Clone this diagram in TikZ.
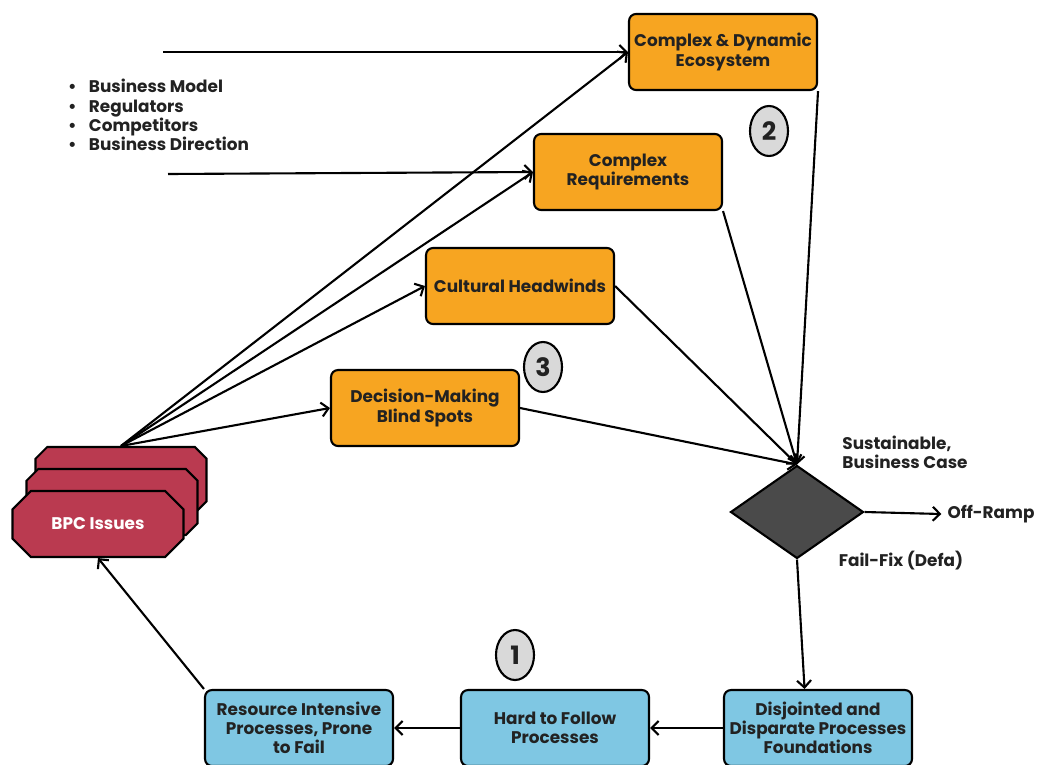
\documentclass[tikz,border=0pt]{standalone}
\usepackage{fontspec}
\setmainfont{Poppins}
\usepackage{xcolor}
\usetikzlibrary{arrows.meta,positioning,calc,shapes.geometric,shapes.misc}

\definecolor{issueorange}{HTML}{F7A521}
\definecolor{procblue}{HTML}{7FC7E3}
\definecolor{bpcred}{HTML}{BA3A50}
\definecolor{gatedark}{HTML}{4A4A4A}
\definecolor{numgray}{HTML}{D9D9D9}
\definecolor{inkblack}{HTML}{222222}

\begin{document}
\begin{tikzpicture}[
    x=0.02cm, y=-0.02cm, >={Straight Barb[length=4pt,width=8pt]},
    every node/.style={font=\bfseries\fontsize{9.6}{10.9}\selectfont, text=inkblack},
    issue/.style={draw, line width=1.2pt, rounded corners=4pt, fill=issueorange, align=center, inner sep=1pt, minimum width=3.76cm, minimum height=1.52cm},
    proc/.style={issue, fill=procblue},
    bpc/.style={draw, line width=1.2pt, chamfered rectangle, chamfered rectangle xsep=0.28cm, fill=bpcred, minimum width=3.42cm, minimum height=1.32cm, text=white},
    num/.style={draw, line width=1.2pt, ellipse, fill=numgray, minimum width=0.76cm, minimum height=1cm, inner sep=0pt, font=\bfseries\Large},
    gate/.style={draw, line width=1.2pt, diamond, fill=gatedark, minimum width=2.66cm, minimum height=1.86cm, inner sep=0pt, aspect=1.43},
    arr/.style={->, line width=1.2pt}
  ]
    \useasboundingbox (0,0) rectangle (1037,764);

    % issues
    \node[issue] (eco)   at (723,52)  {Complex \& Dynamic\\Ecosystem};
    \node[issue] (req)   at (628,172) {Complex\\Requirements};
    \node[issue] (cult)  at (520,286) {Cultural Headwinds};
    \node[issue] (blind) at (425,408) {Decision-Making\\Blind Spots};

    \node[num] (n2) at (769,131) {2};
    \node[num] (n3) at (543,367) {3};
    \node[num] (n1) at (515,655) {1};

    % decision
    \node[gate] (case) at (797,512) {};
    \node[align=left]  (caselbl) at (905,452) {Sustainable,\\Business Case};
    \node              (offramp) at (991,514) {Off-Ramp};
    \node              (failfix) at (901,561) {Fail-Fix (Defa)};

    % processes
    \node[proc] (disj) at (818,728) {Disjointed and\\Disparate Processes\\Foundations};
    \node[proc] (hard) at (555,728) {Hard to Follow\\Processes};
    \node[proc] (res)  at (299,728) {Resource Intensive\\Processes, Prone\\to Fail};

    % stacked issues
    \node[bpc] (bpc3) at (121,480) {};
    \node[bpc] (bpc2) at (112,502) {};
    \node[bpc] (bpc1) at (98,524)  {BPC Issues};

    \node[align=left, anchor=west] (drivers) at (62,115) {\textbullet\hspace{7pt}Business Model\\\textbullet\hspace{7pt}Regulators\\\textbullet\hspace{7pt}Competitors\\\textbullet\hspace{7pt}Business Direction};
    \coordinate (feedA) at (163,52);
    \coordinate (feedB) at (168,174);

    % external drivers
    \draw[arr] (feedA) -- (eco.west);
    \draw[arr] (feedB) -- (req.west);

    % fan out of BPC issues
    \draw[arr] (bpc3.north) -- (eco.west);
    \draw[arr] (bpc3.north) -- (req.west);
    \draw[arr] (bpc3.north) -- (cult.west);
    \draw[arr] (bpc3.north) -- (blind.west);

    % into the business case
    \draw[arr] (eco.south east) -- (case.north);
    \draw[arr] (req.south east) -- (case.north);
    \draw[arr] (cult.east) -- (case.north);
    \draw[arr] (blind.east) -- (case.north);
    \draw[arr] (case.east) -- (offramp.west);

    % loop back
    \draw[arr] (case.south) -- (disj.109);
    \draw[arr] (disj.west) -- (hard.east);
    \draw[arr] (hard.west) -- (res.east);
    \draw[arr] (res.north west) -- (bpc1.south);

  \end{tikzpicture}
\end{document}
